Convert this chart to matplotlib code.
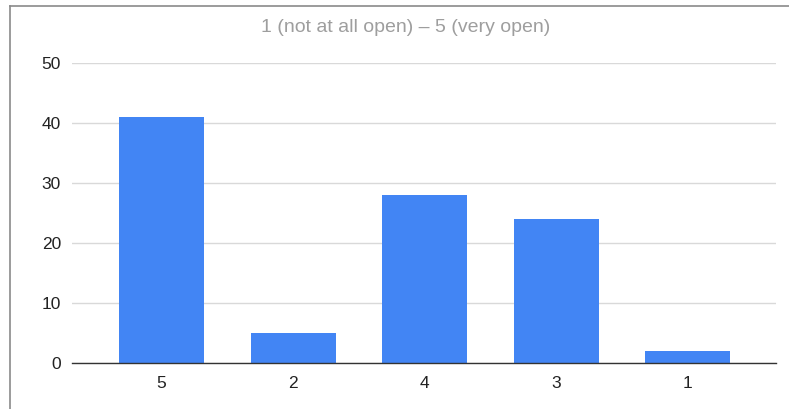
import matplotlib
matplotlib.use("Agg")
import matplotlib.pyplot as plt
from matplotlib.lines import Line2D

plt.rcParams['font.family'] = ['Liberation Sans', 'DejaVu Sans']

categories = ["5", "2", "4", "3", "1"]
counts = [41, 5, 28, 24, 2]
y_ticks = [0, 10, 20, 30, 40, 50]
title = "1 (not at all open) \u2013 5 (very open)"

W, H = 789, 409
fig = plt.figure(figsize=(W / 100, H / 100), dpi=100)
ax = fig.add_axes([72 / W, 1 - 363 / H, (776 - 72) / W, 300 / H])

x = list(range(len(categories)))
ax.bar(x, counts, width=0.646, color="#4285f4", zorder=3)

ax.set_xlim(-0.68, 4.67)
ax.set_ylim(0, 50)
ax.set_yticks(y_ticks)
ax.set_xticks(x)
ax.set_xticklabels(categories)
ax.grid(axis="y", color="#d9d9d9", linewidth=1, zorder=0)
ax.tick_params(axis="both", length=0, labelsize=12.5, colors="#222222")
ax.tick_params(axis="x", pad=9)
ax.tick_params(axis="y", pad=8)
for side in ("top", "right", "left"):
    ax.spines[side].set_visible(False)
ax.spines["bottom"].set_color("#333333")
ax.spines["bottom"].set_linewidth(1)
ax.spines["bottom"].set_zorder(4)

fig.text(406 / W, 1 - 28 / H, title, ha="center", va="center",
         fontsize=14, color="#9e9e9e")

# thin frame around the chart card
fig.add_artist(Line2D([10 / W, 10 / W], [0, 1 - 6 / H], transform=fig.transFigure,
                      color="#8a8a8a", linewidth=1.2))
fig.add_artist(Line2D([10 / W, 1], [1 - 6 / H, 1 - 6 / H], transform=fig.transFigure,
                      color="#8a8a8a", linewidth=1.2))

fig.savefig("out.png", dpi=100)
